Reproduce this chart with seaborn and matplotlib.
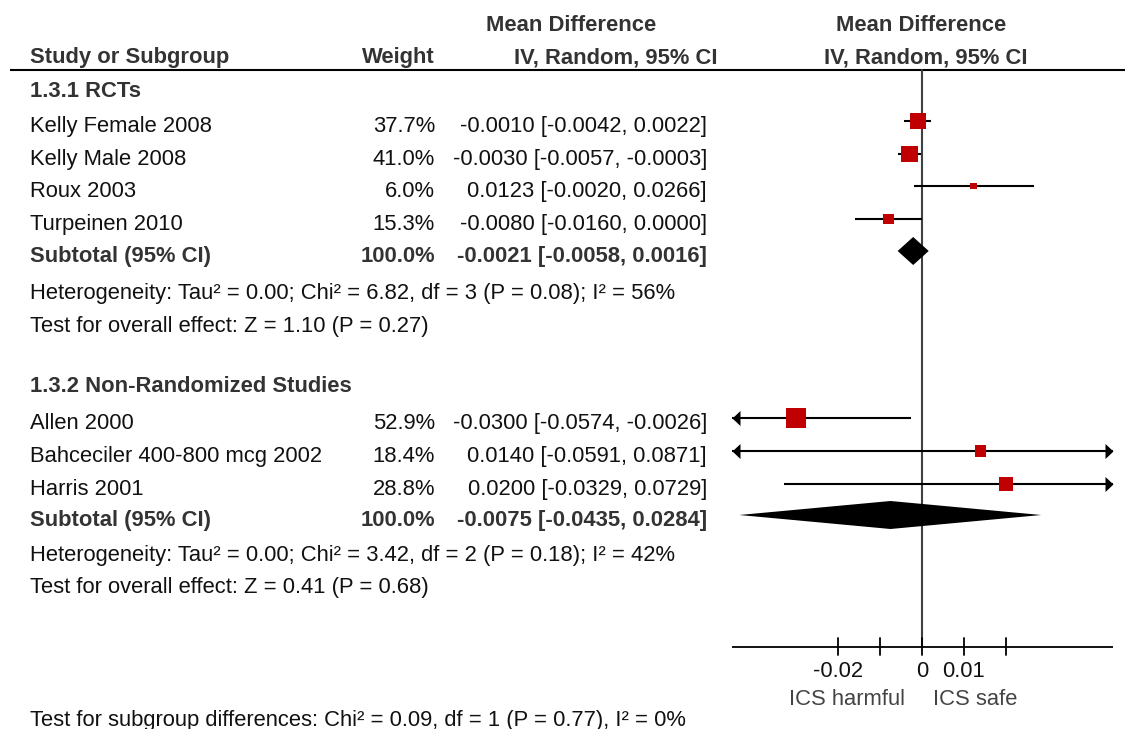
import numpy as np
import matplotlib
matplotlib.use("Agg")
import matplotlib.pyplot as plt
from matplotlib import font_manager
import seaborn as sns

# ---- data -------------------------------------------------------------
group1_title = "1.3.1 RCTs"
group1_studies = ["Kelly Female 2008", "Kelly Male 2008", "Roux 2003", "Turpeinen 2010"]
group1_weight = [37.7, 41.0, 6.0, 15.3]
group1_md = [-0.0010, -0.0030, 0.0123, -0.0080]
group1_lo = [-0.0042, -0.0057, -0.0020, -0.0160]
group1_hi = [0.0022, -0.0003, 0.0266, 0.0000]
group1_total = (-0.0021, -0.0058, 0.0016)
group1_het = "Heterogeneity: Tau² = 0.00; Chi² = 6.82, df = 3 (P = 0.08); I² = 56%"
group1_z = "Test for overall effect: Z = 1.10 (P = 0.27)"

group2_title = "1.3.2 Non-Randomized Studies"
group2_studies = ["Allen 2000", "Bahceciler 400-800 mcg 2002", "Harris 2001"]
group2_weight = [52.9, 18.4, 28.8]
group2_md = [-0.0300, 0.0140, 0.0200]
group2_lo = [-0.0574, -0.0591, -0.0329]
group2_hi = [-0.0026, 0.0871, 0.0729]
group2_total = (-0.0075, -0.0435, 0.0284)
group2_het = "Heterogeneity: Tau² = 0.00; Chi² = 3.42, df = 2 (P = 0.18); I² = 42%"
group2_z = "Test for overall effect: Z = 0.41 (P = 0.68)"

subgroup_test = "Test for subgroup differences: Chi² = 0.09, df = 1 (P = 0.77), I² = 0%"

tick_values = [-0.02, -0.01, 0.0, 0.01, 0.02]
tick_labels = ["-0.02", "", "0", "0.01", ""]
favours_left = "ICS harmful"
favours_right = "ICS safe"
x_limits = (-0.04524, 0.04548)

# ---- style ------------------------------------------------------------
sns.set_theme(style="white")
installed = {f.name for f in font_manager.fontManager.ttflist}
family = ["Liberation Sans"] if "Liberation Sans" in installed else ["DejaVu Sans"]
plt.rcParams["font.family"] = family + ["DejaVu Sans"]

FS = 15.8
TXT = "#111111"
HEAD = "#333333"
RED = "#C00000"
HALF_CAP = 8  # half the cap height in pixels, used to centre text on a row

W, H = 1125, 729
fig = plt.figure(figsize=(W / 100, H / 100), dpi=100)
fig.patch.set_facecolor("white")

# text layer in pixel units
ax_t = fig.add_axes([0, 0, 1, 1])
ax_t.set_xlim(0, W)
ax_t.set_ylim(H, 0)
ax_t.axis("off")

# forest layer: x in mean-difference units, y shared with the text layer
px_left, px_right = 732, 1113
ax_f = fig.add_axes([px_left / W, 0, (px_right - px_left) / W, 1])
ax_f.set_xlim(*x_limits)
ax_f.set_ylim(H, 0)
ax_f.axis("off")
ax_f.patch.set_alpha(0)

X_NAME, X_WEIGHT, X_MD = 30, 435, 707
TEXT_DY = 3  # text sits slightly below the mark centre


def put(ax, x, y, s, ha="left", bold=False, color=None):
    ax.text(x, y + HALF_CAP, s, ha=ha, va="baseline", fontsize=FS,
            fontweight="bold" if bold else "normal",
            color=color if color else (HEAD if bold else TXT))


def row_text(y, name, weight, md_str, bold=False):
    put(ax_t, X_NAME, y + TEXT_DY, name, "left", bold)
    put(ax_t, X_WEIGHT, y + TEXT_DY, weight, "right", bold)
    put(ax_t, X_MD, y + TEXT_DY, md_str, "right", bold)


def fmt(md, lo, hi):
    return f"{md:.4f} [{lo:.4f}, {hi:.4f}]"


# headers
put(ax_t, 571, 23, "Mean Difference", "center", True)
put(ax_t, 921, 23, "Mean Difference", "center", True)
put(ax_t, X_NAME, 55, "Study or Subgroup", "left", True)
put(ax_t, X_WEIGHT, 55, "Weight", "right", True)
put(ax_t, 718, 55, "IV, Random, 95% CI", "right", True)
put(ax_t, 926, 55, "IV, Random, 95% CI", "center", True)
ax_t.plot([10, W], [70, 70], color="black", lw=1.5, solid_capstyle="butt")

# zero line and horizontal axis
axis_y = 647
ax_f.plot([0, 0], [70, axis_y], color="#404040", lw=1.5, zorder=1)
ax_f.plot(x_limits, [axis_y, axis_y], color="black", lw=1.3, solid_capstyle="butt")
for tv, tl in zip(tick_values, tick_labels):
    ax_f.plot([tv, tv], [638, 655], color="black", lw=1.3)
    if tl:
        put(ax_f, tv, 669, tl, "center")
put(ax_t, 847, 697, favours_left, "center", color="#444444")
put(ax_t, 975, 697, favours_right, "center", color="#444444")

# arrowhead markers (tip at the marker position)
left_head = [(0, 0), (8, 7.5), (8, -7.5), (0, 0)]
right_head = [(0, 0), (-8, 7.5), (-8, -7.5), (0, 0)]
HEAD_MS = 16 * 0.72


def draw_group(title, y_title, studies, weights, mds, los, his, rows,
               total, y_total, het, y_het, ztxt, y_z):
    put(ax_t, X_NAME, y_title, title, "left", True)
    for name, w, m, lo, hi, y in zip(studies, weights, mds, los, his, rows):
        row_text(y, name, f"{w:.1f}%", fmt(m, lo, hi))
        a = max(lo, x_limits[0])
        b = min(hi, x_limits[1])
        ax_f.plot([a, b], [y, y], color="black", lw=1.5, solid_capstyle="butt", zorder=2)
        if lo < x_limits[0]:
            ax_f.plot([x_limits[0]], [y], marker=left_head, ms=HEAD_MS,
                      color="black", mew=0, zorder=3)
        if hi > x_limits[1]:
            ax_f.plot([x_limits[1]], [y], marker=right_head, ms=HEAD_MS,
                      color="black", mew=0, zorder=3)
    # squares: side proportional to sqrt(weight)
    sizes = [(2.65 * np.sqrt(w) * 0.72) ** 2 for w in weights]
    sns.scatterplot(x=mds, y=rows, s=sizes, marker="s", color=RED, linewidth=0,
                    ax=ax_f, zorder=4, legend=False)
    m, lo, hi = total
    row_text(y_total, "Subtotal (95% CI)", "100.0%", fmt(m, lo, hi), bold=True)
    ax_f.fill([lo, m, hi, m], [y_total, y_total - 14, y_total, y_total + 14],
              color="black", lw=0, zorder=4)
    put(ax_t, X_NAME, y_het, het)
    put(ax_t, X_NAME, y_z, ztxt)


draw_group(group1_title, 89, group1_studies, group1_weight, group1_md, group1_lo,
           group1_hi, [121, 154, 186, 219], group1_total, 251,
           group1_het, 291, group1_z, 324)
draw_group(group2_title, 384, group2_studies, group2_weight, group2_md, group2_lo,
           group2_hi, [418, 451, 484], group2_total, 515,
           group2_het, 553, group2_z, 585)

put(ax_t, X_NAME, 718, subgroup_test)
ax_f.set_xlim(*x_limits)
ax_f.set_ylim(H, 0)

fig.savefig("out.png", dpi=100, facecolor="white")
